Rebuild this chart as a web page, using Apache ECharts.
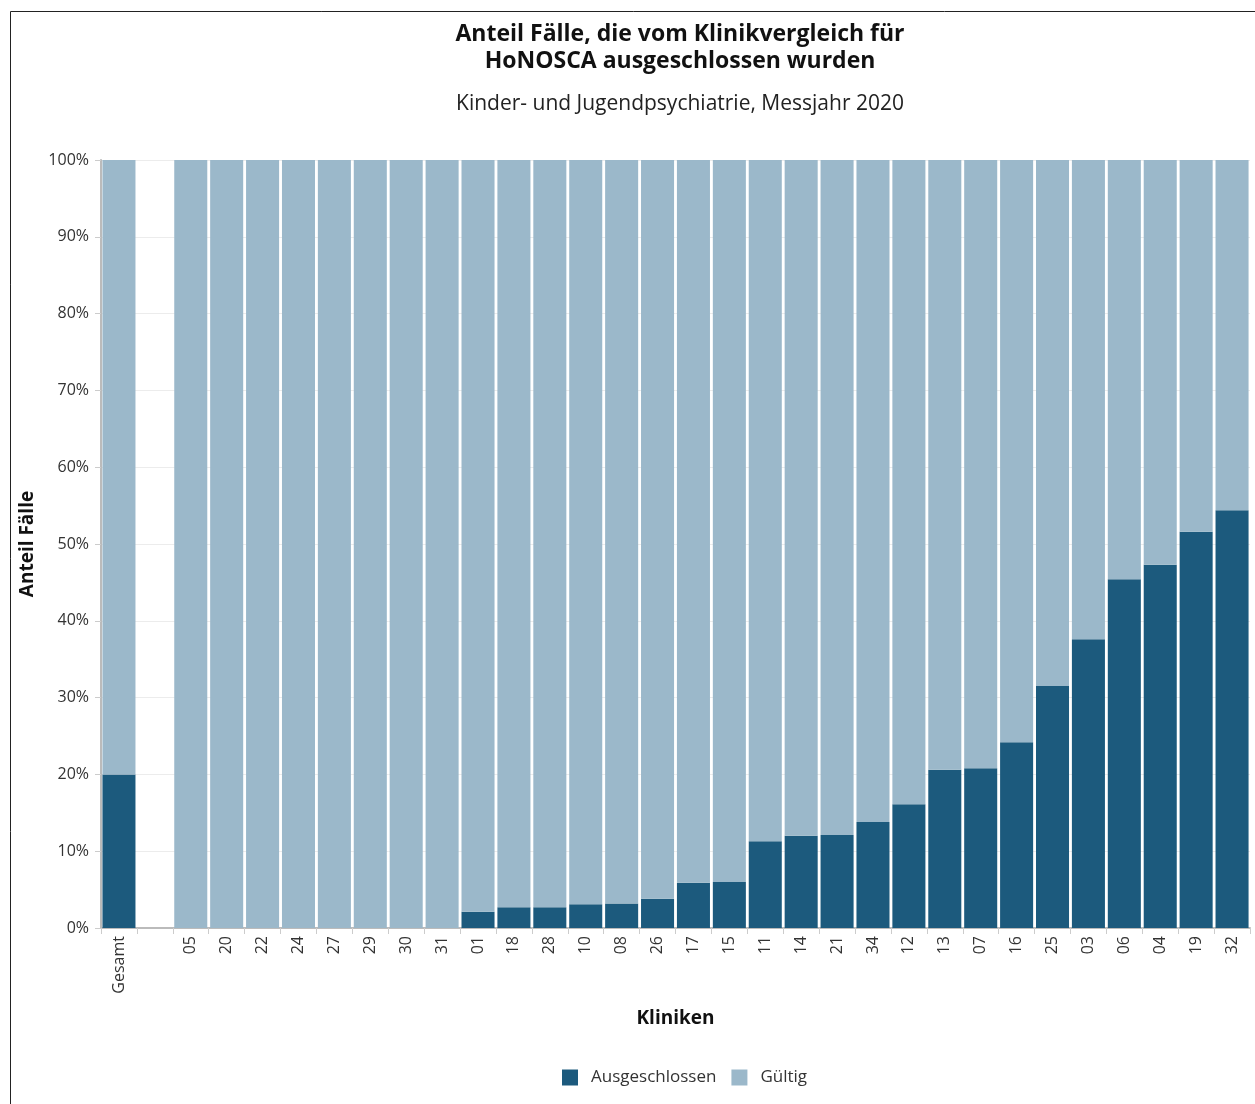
<!DOCTYPE html>
<html>
<head>
<meta charset="utf-8">
<script src="https://cdn.jsdelivr.net/npm/echarts@6/dist/echarts.min.js"></script>
<style>
  html, body { margin: 0; padding: 0; background: #fff; }
  #chart { width: 1255px; height: 1104px; }
</style>
</head>
<body>
<div id="chart"></div>
<script>
// Kliniken, sortiert nach Anteil ausgeschlossener Fälle (leere Spalte trennt "Gesamt")
const kliniken = ['Gesamt', '', '05', '20', '22', '24', '27', '29', '30', '31', '01', '18', '28', '10', '08', '26', '17', '15', '11', '14', '21', '34', '12', '13', '07', '16', '25', '03', '06', '04', '19', '32'];

// Anteil ausgeschlossener Fälle in %
const ausgeschlossen = [20.0, null, 0, 0, 0, 0, 0, 0, 0, 0, 2.1, 2.7, 2.7, 3.1, 3.2, 3.8, 5.9, 6.0, 11.3, 12.0, 12.1, 13.8, 16.1, 20.6, 20.8, 24.2, 31.5, 37.6, 45.4, 47.3, 51.6, 54.4];

// Anteil gültiger Fälle in %
const gueltig = [80.0, null, 100, 100, 100, 100, 100, 100, 100, 100, 97.9, 97.3, 97.3, 96.9, 96.8, 96.2, 94.1, 94.0, 88.7, 88.0, 87.9, 86.2, 83.9, 79.4, 79.2, 75.8, 68.5, 62.4, 54.6, 52.7, 48.4, 45.6];

const yTicks = [0, 10, 20, 30, 40, 50, 60, 70, 80, 90, 100];

const FONT = '"Open Sans", "Noto Sans", sans-serif';
const DARK = '#1c5a7d';
const LIGHT = '#9bb8ca';

const chart = echarts.init(document.getElementById('chart'), null, { renderer: 'canvas' });

chart.setOption({
  animation: false,
  backgroundColor: '#fff',
  textStyle: { fontFamily: FONT },
  graphic: [{
    type: 'rect',
    shape: { x: 10.5, y: 11.5, width: 1300, height: 1200 },
    style: { fill: 'none', stroke: '#222', lineWidth: 1 },
    silent: true
  }],
  title: [{
    text: 'Anteil Fälle, die vom Klinikvergleich für\nHoNOSCA ausgeschlossen wurden',
    left: 675, top: 16, textAlign: 'center',
    textStyle: { fontFamily: FONT, fontWeight: 'bold', fontSize: 23, lineHeight: 27, color: '#111' }
  }, {
    text: 'Kinder- und Jugendpsychiatrie, Messjahr 2020',
    left: 675, top: 89, textAlign: 'center',
    textStyle: { fontFamily: FONT, fontWeight: 'normal', fontSize: 21, color: '#222' }
  }],
  legend: {
    data: ['Ausgeschlossen', 'Gültig'],
    left: 557, top: 1064,
    icon: 'rect', itemWidth: 16, itemHeight: 16, itemGap: 15,
    textStyle: { fontFamily: FONT, fontSize: 17, color: '#333', padding: [0, 0, 0, 8] }
  },
  grid: { left: 101, right: 5, top: 160, bottom: 176, containLabel: false },
  xAxis: {
    type: 'category',
    data: kliniken,
    name: 'Kliniken',
    nameLocation: 'middle',
    nameGap: 81,
    nameTextStyle: { fontFamily: FONT, fontWeight: 'bold', fontSize: 19, color: '#111' },
    axisLine: { lineStyle: { color: '#bbb', width: 2 } },
    axisTick: { show: true, alignWithLabel: false, length: 6, lineStyle: { color: '#ccc' } },
    axisLabel: { rotate: 90, fontFamily: FONT, fontSize: 16, color: '#333', margin: 8, interval: 0 }
  },
  yAxis: {
    type: 'value',
    min: 0, max: 100, interval: 10,
    name: 'Anteil Fälle',
    nameLocation: 'middle',
    nameGap: 62,
    nameTextStyle: { fontFamily: FONT, fontWeight: 'bold', fontSize: 19, color: '#111' },
    axisLine: { show: true, lineStyle: { color: '#bbb', width: 2 } },
    axisTick: { show: true, length: 6, lineStyle: { color: '#ccc' } },
    axisLabel: {
      fontFamily: FONT, fontSize: 16, color: '#333', margin: 12,
      formatter: v => yTicks.includes(v) ? v + '%' : ''
    },
    splitLine: { show: true, lineStyle: { color: '#ececec', width: 1 } }
  },
  series: [{
    name: 'Ausgeschlossen',
    type: 'bar',
    stack: 'anteil',
    data: ausgeschlossen,
    barCategoryGap: '8%',
    itemStyle: { color: DARK }
  }, {
    name: 'Gültig',
    type: 'bar',
    stack: 'anteil',
    data: gueltig,
    barCategoryGap: '8%',
    itemStyle: { color: LIGHT }
  }]
});
</script>
</body>
</html>
